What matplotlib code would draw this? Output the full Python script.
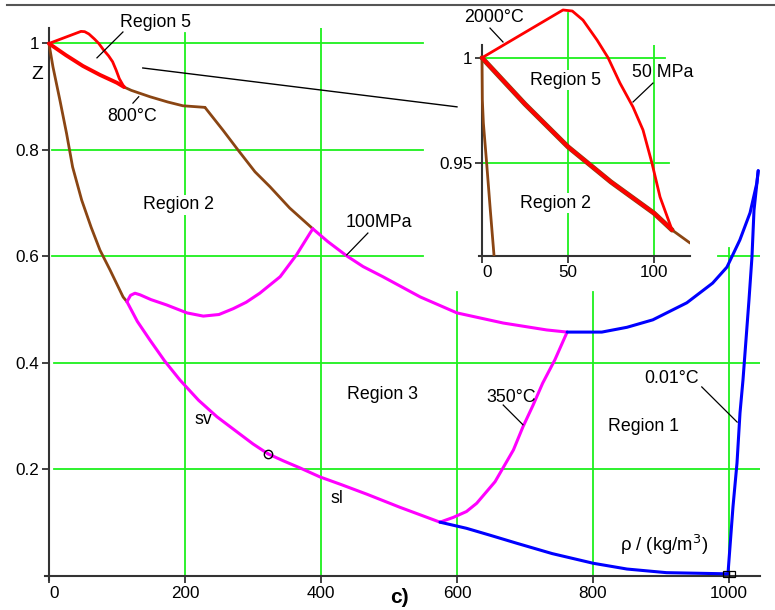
import matplotlib
matplotlib.use("Agg")
import matplotlib.pyplot as plt
from matplotlib.lines import Line2D

plt.rcParams['font.family'] = ['Liberation Sans', 'DejaVu Sans']
FS = 12.8
TFS = 12.3

# ---------------- data ----------------
x_ticks = [0, 200, 400, 600, 800, 1000]
y_ticks = [0.2, 0.4, 0.6, 0.8, 1.0]
y_ticklabels = ["0.2", "0.4", "0.6", "0.8", "1"]

# Region 5 boundaries (2000 °C isotherm up to 50 MPa isobar, and 50 MPa isobar)
r5_upper_rho = [0, 47.1, 52.5, 58.7, 66.9, 73.3, 80.2, 87.8, 93.6, 98.8, 103.5, 110.5]
r5_upper_z = [1.0, 1.0227, 1.0222, 1.0179, 1.0084, 1.0, 0.988, 0.9766, 0.9657, 0.95,
              0.9339, 0.9182]
r5_lower_rho = [0, 25, 50, 75, 100, 110.5]
r5_lower_z = [1.0, 0.978, 0.9577, 0.941, 0.9262, 0.9182]

# Saturated vapour (region 2 part, brown)
satv2_rho = [0, 5.9, 16.2, 25.9, 34.8, 48.1, 62, 75, 89.7, 109, 114.7]
satv2_z = [1.0, 0.956, 0.893, 0.831, 0.768, 0.706, 0.655, 0.612, 0.575, 0.524, 0.515]
# Same curve, inset detail
satv2_in_rho = [0, 0.2, 0.8, 2.7, 4.8, 7.0]
satv2_in_z = [1.0, 0.98, 0.969, 0.95, 0.928, 0.906]

# 800 °C isotherm (brown)
t800_rho = [110.5, 121, 148.5, 175, 197, 229.4]
t800_z = [0.9182, 0.912, 0.900, 0.890, 0.883, 0.880]
# 100 MPa isobar, region 2 part (brown)
p100_r2_rho = [229.4, 256, 278, 303, 325, 354, 388]
p100_r2_z = [0.880, 0.837, 0.800, 0.759, 0.731, 0.691, 0.652]

# Region 3 boundaries (magenta)
b23_rho = [114.7, 120, 126.5, 134, 150, 173, 203, 227, 250, 271, 290, 310, 340, 364, 384, 388]
b23_z = [0.515, 0.527, 0.531, 0.528, 0.519, 0.509, 0.494, 0.488, 0.491, 0.502, 0.514, 0.531,
         0.562, 0.603, 0.644, 0.652]
p100_r3_rho = [388, 410, 438, 462, 491, 546, 600, 668, 732, 762]
p100_r3_z = [0.652, 0.628, 0.601, 0.581, 0.562, 0.524, 0.494, 0.475, 0.462, 0.458]
sv_rho = [114.7, 130, 148.5, 170, 192.6, 220, 247, 275, 300, 322]
sv_z = [0.515, 0.478, 0.443, 0.404, 0.368, 0.330, 0.299, 0.272, 0.248, 0.2294]
sl_rho = [322, 345, 369, 398.5, 430, 467.6, 516, 575]
sl_z = [0.2294, 0.216, 0.203, 0.186, 0.1715, 0.1535, 0.129, 0.101]
t350_rho = [575, 594.6, 614, 629, 656, 683, 697, 712, 726, 744, 762]
t350_z = [0.101, 0.110, 0.121, 0.1365, 0.177, 0.2366, 0.280, 0.321, 0.362, 0.406, 0.458]

# Region 1 boundaries (blue)
satl1_rho = [575, 614, 650, 688, 740, 800.5, 850, 908, 997]
satl1_z = [0.101, 0.0895, 0.076, 0.0614, 0.042, 0.0238, 0.013, 0.0062, 0.004]
p100_r1_rho = [762, 813, 850, 888, 938, 976, 997, 1016, 1031, 1041, 1043]
p100_r1_z = [0.458, 0.458, 0.467, 0.481, 0.513, 0.550, 0.580, 0.631, 0.682, 0.738, 0.761]
t001_rho = [998.5, 1005.9, 1011.8, 1016.2, 1020.6, 1029.4, 1033.8, 1036.8, 1043]
t001_z = [0.004, 0.13, 0.212, 0.306, 0.368, 0.518, 0.599, 0.687, 0.761]

crit_rho, crit_z = [322], [0.2294]
triple_rho, triple_z = [996, 1004], [0.003, 0.003]

inset_x_ticks = [0, 50, 100]
inset_y_ticks = [0.95, 1.0]
inset_y_ticklabels = ["0.95", "1"]

# ---------------- colours ----------------
GREEN = '#1ef01e'
RED = '#ff0000'
BROWN = '#8a4513'
MAG = '#ff00ff'
BLUE = '#0000ff'
AX = '#333333'

fig = plt.figure(figsize=(7.75, 6.1), dpi=100)
ax = fig.add_axes([0.0579, 0.0497, 0.9222, 0.9052])
ax.set_xlim(-6, 1045)
ax.set_ylim(-0.007, 1.03)

for s in ['top', 'right']:
    ax.spines[s].set_visible(False)
ax.spines['left'].set_position(('data', 0))
ax.spines['bottom'].set_position(('data', 0))
for s in ['left', 'bottom']:
    ax.spines[s].set_color(AX)
    ax.spines[s].set_linewidth(1.5)
ax.set_xticks(x_ticks)
ax.set_xticklabels([str(v) for v in x_ticks], fontsize=TFS)
ax.set_yticks(y_ticks)
ax.set_yticklabels(y_ticklabels, fontsize=TFS)
ax.tick_params(direction='out', length=5, width=1.3, color=AX, pad=2)
ax.get_xticklabels()[0].set_ha('left')

# gridlines (segmented, as in reference)
gkw = dict(color=GREEN, lw=1.3, zorder=1)
for yv in y_ticks:
    if yv >= 0.6:
        ax.plot([4, 550], [yv, yv], **gkw)
    else:
        ax.plot([8, 1045], [yv, yv], **gkw)
ax.plot([984, 1045], [0.6, 0.6], **gkw)
for xv, top in zip([200, 400, 600, 800, 1000], [1.02, 1.03, 0.533, 0.533, 0.616]):
    ax.plot([xv, xv], [0.0, top], **gkw)

# curves
lkw = dict(solid_capstyle='round', solid_joinstyle='round', zorder=3)
ax.plot(satv2_rho, satv2_z, color=BROWN, lw=2.0, **lkw)
ax.plot(t800_rho, t800_z, color=BROWN, lw=2.0, **lkw)
ax.plot(p100_r2_rho, p100_r2_z, color=BROWN, lw=2.0, **lkw)
ax.plot(r5_upper_rho, r5_upper_z, color=RED, lw=2.0, clip_on=False, **lkw)
ax.plot(r5_lower_rho, r5_lower_z, color=RED, lw=2.8, **lkw)
ax.plot(b23_rho, b23_z, color=MAG, lw=2.2, **lkw)
ax.plot(p100_r3_rho, p100_r3_z, color=MAG, lw=2.2, **lkw)
ax.plot(sv_rho, sv_z, color=MAG, lw=2.2, **lkw)
ax.plot(sl_rho, sl_z, color=MAG, lw=2.2, **lkw)
ax.plot(t350_rho, t350_z, color=MAG, lw=2.2, **lkw)
ax.plot(satl1_rho, satl1_z, color=BLUE, lw=2.2, **lkw)
ax.plot(p100_r1_rho, p100_r1_z, color=BLUE, lw=2.2, **lkw)
ax.plot(t001_rho, t001_z, color=BLUE, lw=2.2, **lkw)
ax.plot(crit_rho, crit_z, 'o', mfc='none', mec='black', ms=6, mew=1.0, zorder=5)
ax.plot(triple_rho, triple_z, 's', mfc='none', mec='black', ms=5, mew=0.9, zorder=5,
        clip_on=False)

# texts and leaders
tbox = dict(facecolor='white', edgecolor='none', pad=1.0)
def label(a, x, y, s, box=True, **kw):
    a.text(x, y, s, ha='center', va='center', fontsize=FS, zorder=6,
           bbox=tbox if box else None, **kw)

def leader(a, xs, ys):
    a.plot(xs, ys, color='black', lw=0.9, zorder=6, clip_on=False)

label(ax, 156, 1.040, "Region 5", box=False)
leader(ax, [108.8, 70.6], [1.0216, 0.973])
label(ax, 122, 0.862, "800°C", box=False)
leader(ax, [132, 123.5], [0.900, 0.888])
ax.text(-17.6, 0.941, "Z", ha='center', va='center', fontsize=FS + 1)
label(ax, 190, 0.697, "Region 2")
label(ax, 485, 0.663, "100MPa", box=False)
leader(ax, [469, 438], [0.644, 0.603])
label(ax, 491, 0.340, "Region 3")
label(ax, 679, 0.336, "350°C", box=False)
leader(ax, [668, 697], [0.321, 0.284])
label(ax, 915, 0.370, "0.01°C", box=False)
leader(ax, [960, 1012], [0.355, 0.289])
label(ax, 875, 0.280, "Region 1")
label(ax, 226.5, 0.293, "sv", box=False)
label(ax, 423.5, 0.146, "sl", box=False)
ax.text(904, 0.058, r"ρ / (kg/m$^{3}$)", ha='center', va='center', fontsize=FS + 0.5)
ax.text(516, -0.041, "c)", ha='center', va='center', fontsize=15, fontweight='bold',
        clip_on=False)
# connector from main plot to inset
ax.plot([138, 600], [0.954, 0.881], color='black', lw=1.0, zorder=2)

# ---------------- inset ----------------
ins = fig.add_axes([0.6186, 0.5808, 0.2719, 0.3452])
ins.set_facecolor('none')
ins.set_xlim(-1.5, 121)
ins.set_ylim(0.906, 1.006)
for s in ['top', 'right']:
    ins.spines[s].set_visible(False)
ins.spines['left'].set_position(('data', 0))
for s in ['left', 'bottom']:
    ins.spines[s].set_color(AX)
    ins.spines[s].set_linewidth(1.5)
ins.set_xticks(inset_x_ticks)
ins.set_xticklabels([str(v) for v in inset_x_ticks], fontsize=TFS)
ins.set_yticks(inset_y_ticks)
ins.set_yticklabels(inset_y_ticklabels, fontsize=TFS)
ins.tick_params(direction='out', length=5, width=1.3, color=AX, pad=2)
ins.get_xticklabels()[0].set_ha('left')

ins.plot([0, 106.4], [1.0, 1.0], color=GREEN, lw=1.3, zorder=1)
ins.plot([0, 109], [0.95, 0.95], color=GREEN, lw=1.3, zorder=1)
ins.plot([50, 50], [0.906, 1.0212], color=GREEN, lw=1.3, zorder=1, clip_on=False)
ins.plot([100, 100], [0.906, 1.006], color=GREEN, lw=1.3, zorder=1)

ins.plot(satv2_in_rho, satv2_in_z, color=BROWN, lw=2.0, **lkw)
ins.plot(r5_lower_rho, r5_lower_z, color=BROWN, lw=3.6, **lkw)
ins.plot(t800_rho[:2], t800_z[:2], color=BROWN, lw=2.0, **lkw)
ins.plot(r5_lower_rho, r5_lower_z, color=RED, lw=2.6, **lkw)
ins.plot(r5_upper_rho, r5_upper_z, color=RED, lw=2.0, clip_on=False, **lkw)

label(ins, 7.0, 1.0189, "2000°C", box=False)
leader(ins, [4.65, 12.2], [1.0141, 1.0075])
label(ins, 48.6, 0.9894, "Region 5")
label(ins, 104.8, 0.9932, "50 MPa", box=False)
leader(ins, [99.4, 87.8], [0.988, 0.979])
label(ins, 43, 0.931, "Region 2")

# top frame line
fig.add_artist(Line2D([0.009, 1.0], [0.9918, 0.9918], color='#555555', lw=1.5))

fig.savefig("out.png", dpi=100)
